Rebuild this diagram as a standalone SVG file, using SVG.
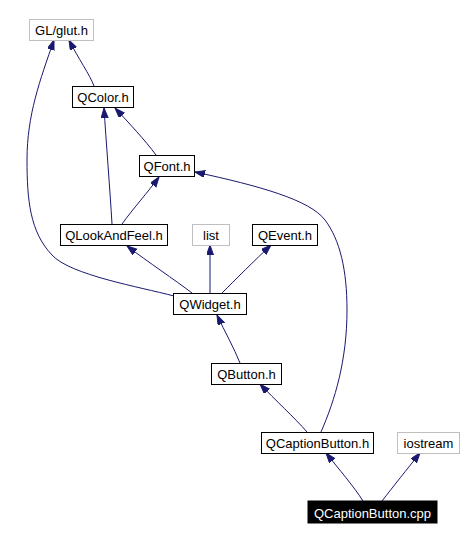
<svg xmlns="http://www.w3.org/2000/svg" width="464" height="540" viewBox="0 0 464 540">
<style>
.n rect{fill:#fff;stroke:#000;stroke-width:1}
.n.g rect{stroke:#bfbfbf}
.n.cur rect{fill:#000;stroke:#000}
.n text{font-family:"Liberation Sans",Arial,sans-serif;font-size:13px;text-anchor:middle;fill:#000}
.n.cur text{fill:#fff}
#edges path{fill:none;stroke:#191970;stroke-width:1;marker-end:url(#ah)}
</style>
<defs>
<marker id="ah" markerUnits="userSpaceOnUse" markerWidth="11" markerHeight="8" refX="10" refY="3.5" orient="auto">
<path d="M0,0 L10,3.5 L0,7 z" fill="#191970" stroke="#191970"/>
</marker>
</defs>
<rect width="464" height="540" fill="#fff"/>
<g id="edges">
<path d="M94,86 C90,75 78,58 69,40"/>
<path d="M174,296 C140,287 70,275 52,255 C30,232 27,200 27,160 C27,115 40,80 54,40"/>
<path d="M112,224 C110,190 106,140 104,108"/>
<path d="M156,155 C145,140 128,122 115,108"/>
<path d="M122,224 C132,210 148,192 159,177"/>
<path d="M321,432 C335,400 347,360 347,310 C347,270 340,240 325,220 C310,200 260,186 195,172"/>
<path d="M192,293 C175,280 148,262 127,246"/>
<path d="M210,293 L210,245"/>
<path d="M222,293 C235,280 255,260 271,245"/>
<path d="M240,363 C234,348 225,332 217,315"/>
<path d="M307,432 C295,418 275,400 260,384"/>
<path d="M363,501 C355,488 338,468 326,453"/>
<path d="M382,501 C392,488 408,468 420,453"/>
</g>
<g id="n_glut" class="n g"><rect x="29.5" y="19.5" width="64" height="21"/><text x="61.5" y="35">GL/glut.h</text></g>
<g id="n_qcolor" class="n"><rect x="72.5" y="86.5" width="61" height="21"/><text x="103" y="102">QColor.h</text></g>
<g id="n_qfont" class="n"><rect x="139.5" y="155.5" width="55" height="21"/><text x="167" y="171">QFont.h</text></g>
<g id="n_qlookandfeel" class="n"><rect x="60.5" y="224.5" width="107" height="21"/><text x="114" y="240">QLookAndFeel.h</text></g>
<g id="n_list" class="n g"><rect x="192.5" y="224.5" width="37" height="21"/><text x="211" y="240">list</text></g>
<g id="n_qevent" class="n"><rect x="252.5" y="224.5" width="65" height="21"/><text x="285" y="240">QEvent.h</text></g>
<g id="n_qwidget" class="n"><rect x="173.5" y="293.5" width="73" height="21"/><text x="210" y="309">QWidget.h</text></g>
<g id="n_qbutton" class="n"><rect x="211.5" y="363.5" width="70" height="21"/><text x="246.5" y="379">QButton.h</text></g>
<g id="n_qcaptionbutton_h" class="n"><rect x="261.5" y="432.5" width="112" height="21"/><text x="317.5" y="448">QCaptionButton.h</text></g>
<g id="n_iostream" class="n g"><rect x="397.5" y="432.5" width="62" height="21"/><text x="428.5" y="448">iostream</text></g>
<g id="n_qcaptionbutton_cpp" class="n cur"><rect x="308" y="501" width="129" height="22"/><text x="372.5" y="517.5">QCaptionButton.cpp</text></g>
</svg>
